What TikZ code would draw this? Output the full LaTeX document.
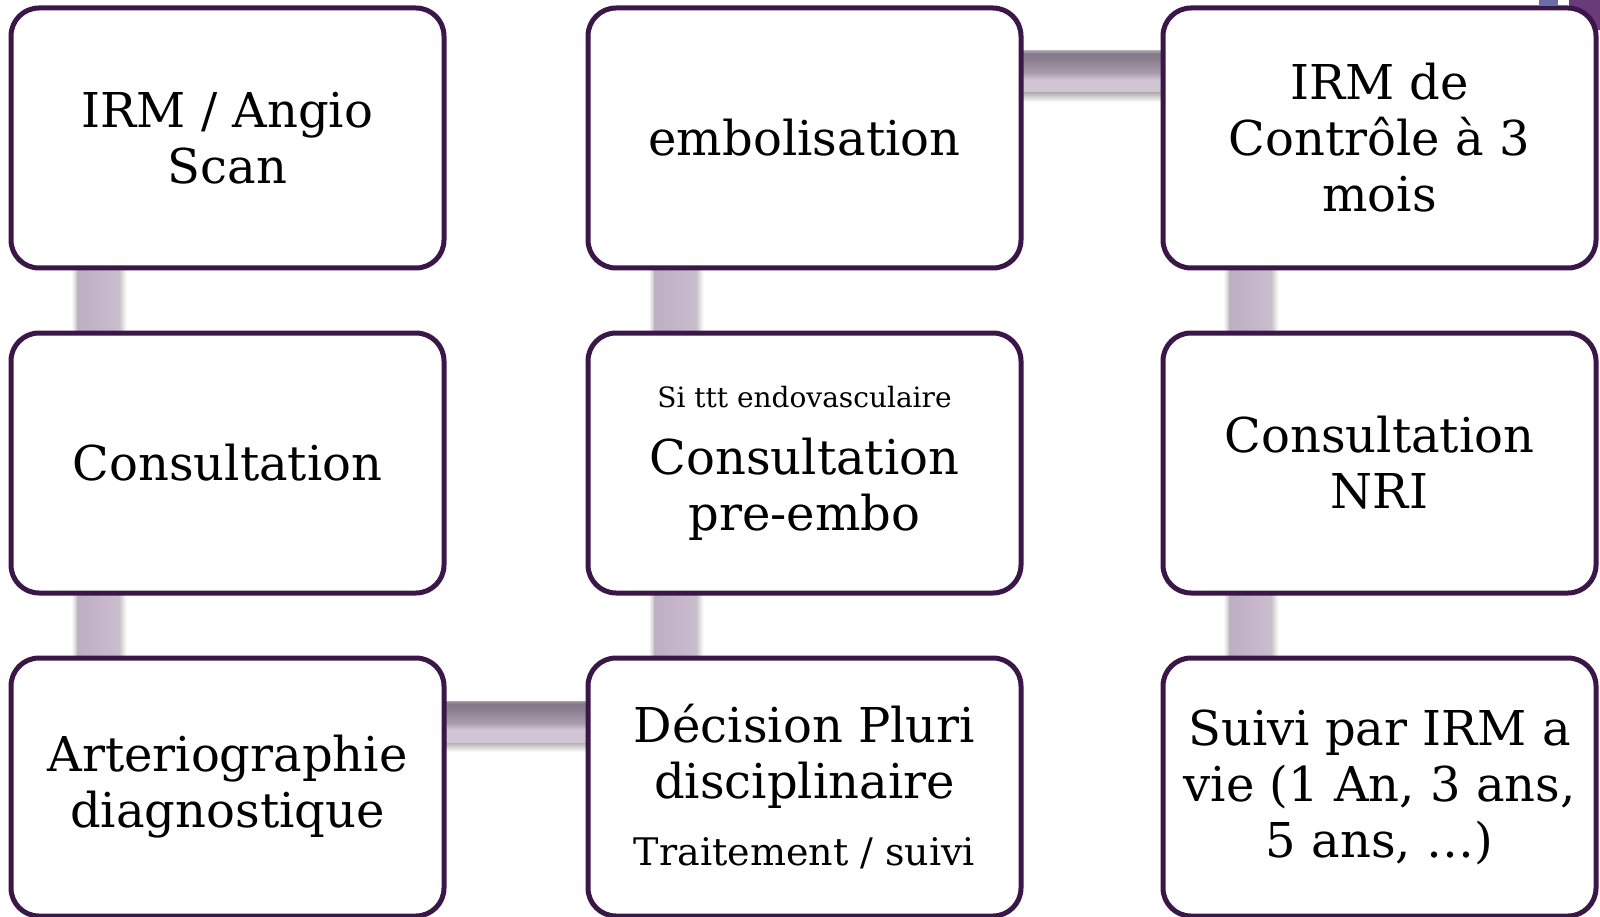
\documentclass[tikz,border=0pt]{standalone}
\usepackage{fontspec}
\setmainfont{DejaVu Serif}
\usetikzlibrary{calc}
\pgfdeclarelayer{background}
\pgfsetlayers{background,main}

\definecolor{boxline}{HTML}{3A1748}
\definecolor{vbarL}{HTML}{BEAFC2}
\definecolor{vbarR}{HTML}{CABDCE}
\definecolor{hbEdge}{HTML}{A8A0AA}
\definecolor{hbDark}{HTML}{84778A}
\definecolor{hbDarkB}{HTML}{8C7F90}
\definecolor{hbMid}{HTML}{AA9DAE}
\definecolor{hbLight}{HTML}{D1C5D5}
\definecolor{slidePurple}{HTML}{6A3B78}
\definecolor{slideBlue}{HTML}{6C6CA6}

% vertical gradient of the horizontal links (dark on top, light below)
\pgfdeclareverticalshading{hbarshade}{100bp}{color(0bp)=(hbLight); color(25bp)=(hbLight); color(40bp)=(hbLight); color(48bp)=(hbMid); color(64bp)=(hbDarkB); color(72bp)=(hbDark); color(75bp)=(hbEdge); color(100bp)=(hbEdge)}

\tikzset{
  box/.style={draw=boxline, line width=5pt, fill=white, rounded corners=28pt,
    minimum width=433pt, minimum height=260pt, inner sep=0pt, outer sep=0pt,
    align=center, text=black, font=\fontsize{48}{56}\selectfont},
  lowbox/.style={box, minimum height=258pt},
  vlinkfill/.style={left color=vbarL, right color=vbarR},
  hlinkfill/.style={shading=hbarshade},
}

% vertical link between a box and the box below it
\newcommand\barV[2]{%
  \shade[left color=white, right color=black!25] ($(#1.south west)+(60.5,-4)$) rectangle ($(#2.north west)+(66.5,4)$);
  \shade[left color=black!22, right color=white] ($(#1.south west)+(108.5,-4)$) rectangle ($(#2.north west)+(115.5,4)$);
  \shade[vlinkfill] ($(#1.south west)+(66.5,-4)$) rectangle ($(#2.north west)+(108.5,4)$);
}
% horizontal link between a box and the box to its right
\newcommand\barH[2]{%
  \shade[top color=black!33, bottom color=white] ($(#1.north east)+(-4,84)$) rectangle ($(#2.north west)+(4,94)$);
  \shade[hlinkfill] ($(#1.north east)+(-4,43)$) rectangle ($(#2.north west)+(4,84)$);
}

\begin{document}
\begin{tikzpicture}[x=1pt, y=-1pt]
\useasboundingbox (0,0) rectangle (1600,917);

% column 1
\node[box] (b11) at (227.5,138) {IRM / Angio\\Scan};
\node[box] (b12) at (227.5,463) {Consultation};
\node[lowbox] (b13) at (227.5,787) {Arteriographie\\diagnostique};
% column 2
\node[box] (b21) at (804.5,138) {embolisation};
\node[box] (b22) at (804.5,463) {{\fontsize{28}{34}\selectfont Si ttt endovasculaire}\\[11pt]Consultation\\pre-embo};
\node[lowbox] (b23) at (804.5,787) {Décision Pluri\\disciplinaire\\[11pt]{\fontsize{38}{46}\selectfont Traitement / suivi}};
% column 3
\node[box] (b31) at (1379.5,138) {IRM de\\Contrôle à 3\\mois};
\node[box] (b32) at (1379.5,463) {Consultation\\NRI};
\node[lowbox] (b33) at (1379.5,787) {Suivi par IRM a\\vie (1 An, 3 ans,\\5 ans, …)};

\begin{pgfonlayer}{background}
  % slide decorations peeking out at the top right
  \fill[slidePurple] (1569,0) rectangle (1600,30);
  \fill[slideBlue] (1539,0) rectangle (1558,5);
  % links
  \barV{b11}{b12}
  \barV{b12}{b13}
  \barH{b13}{b23}
  \barV{b22}{b23}
  \barV{b21}{b22}
  \barH{b21}{b31}
  \barV{b31}{b32}
  \barV{b32}{b33}
\end{pgfonlayer}
\end{tikzpicture}
\end{document}
